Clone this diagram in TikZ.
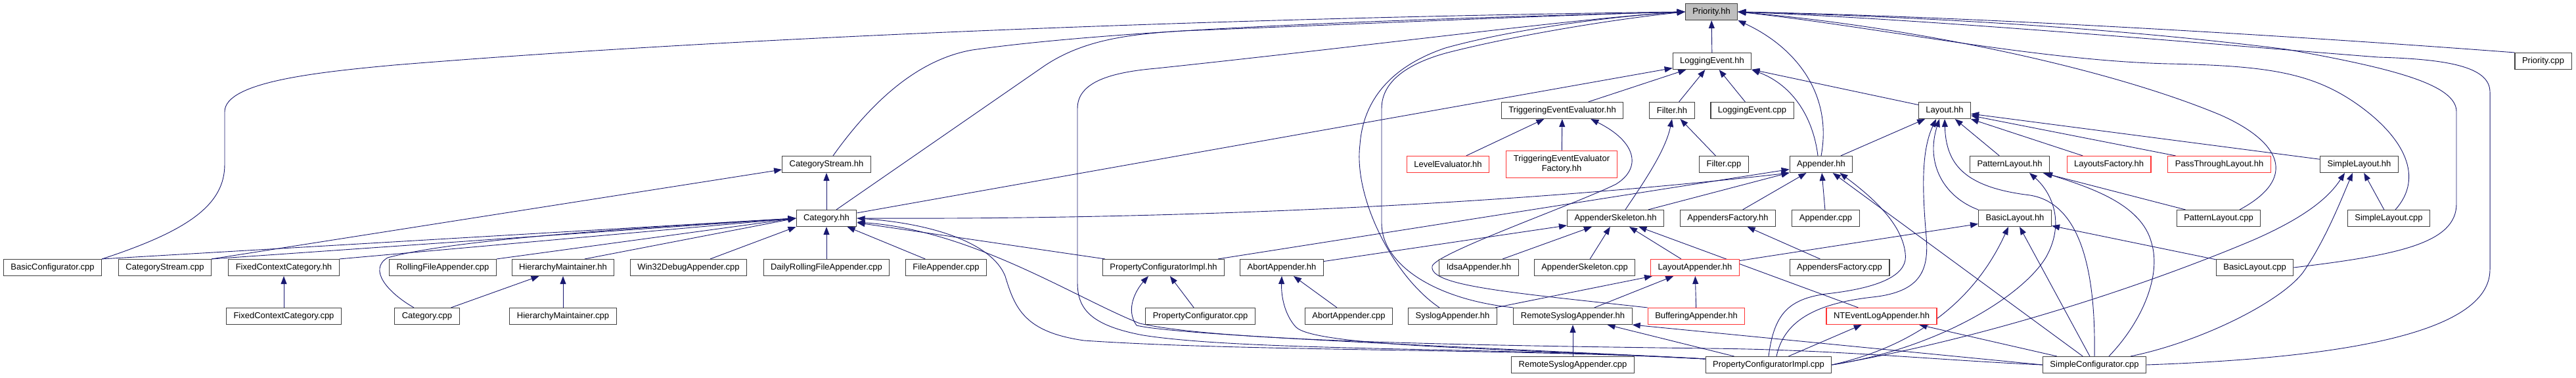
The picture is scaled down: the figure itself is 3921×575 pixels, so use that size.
\documentclass[tikz,border=0pt]{standalone}
\usepackage{fontspec}
\setmainfont{Liberation Sans}
\usepackage{tikz}
\usetikzlibrary{arrows.meta, backgrounds}
\definecolor{dgblue}{RGB}{25,25,112}
\definecolor{dggray}{RGB}{191,191,191}
\definecolor{dgred}{RGB}{255,51,51}
\definecolor{dgframe}{RGB}{64,64,64}
\tikzset{
  %% ---- boxes ----
  incl/.style     = {rectangle, draw=dgframe, line width=1.1pt, fill=white,
                     minimum height=25pt, inner xsep=11pt, inner ysep=2pt,
                     font=\fontsize{13}{15}\selectfont},
  inclred/.style  = {incl, draw=dgred},
  inclroot/.style = {incl, fill=dggray},
  %% ---- arrows ----
  dep/.style      = {-{Triangle[length=12pt,width=9pt]}, draw=dgblue, line width=0.9pt},
}

\begin{document}
\begin{tikzpicture}[x=1pt, y=-1pt]

\useasboundingbox (0,0) rectangle (3921,575);

% rank 0 and 1
\node[inclroot] (prioh)    at (2605,18)  {Priority.hh};
\node[incl]     (logev)    at (2606,93)  {LoggingEvent.hh};
\node[incl]     (pricpp)   at (3871,93)  {Priority.cpp};

% rank 2
\node[incl] (teeh)     at (2378,168) {TriggeringEventEvaluator.hh};
\node[incl] (filth)    at (2545,168) {Filter.hh};
\node[incl] (logevcpp) at (2667,168) {LoggingEvent.cpp};
\node[incl] (layh)     at (2960,168) {Layout.hh};

% rank 3
\node[incl]    (catsh)   at (1258,250) {CategoryStream.hh};
\node[inclred] (leveh)   at (2204,250) {LevelEvaluator.hh};
\node[inclred, align=center, minimum height=41pt]
               (teefh)   at (2377,250) {TriggeringEventEvaluator\\Factory.hh};
\node[incl]    (filtcpp) at (2624,250) {Filter.cpp};
\node[incl]    (apph)    at (2772,250) {Appender.hh};
\node[incl]    (patlh)   at (3059,250) {PatternLayout.hh};
\node[inclred] (laysfh)  at (3210,250) {LayoutsFactory.hh};
\node[inclred] (ptlh)    at (3378,250) {PassThroughLayout.hh};
\node[incl]    (simlh)   at (3591,250) {SimpleLayout.hh};

% rank 4
\node[incl] (cath)    at (1258,332) {Category.hh};
\node[incl] (askh)    at (2459,332) {AppenderSkeleton.hh};
\node[incl] (appfh)   at (2630,332) {AppendersFactory.hh};
\node[incl] (appcpp)  at (2779,332) {Appender.cpp};
\node[incl] (basich)  at (3067,332) {BasicLayout.hh};
\node[incl] (patlcpp) at (3377,332) {PatternLayout.cpp};
\node[incl] (simlcpp) at (3636,332) {SimpleLayout.cpp};

% rank 5
\node[incl]    (bascfg)   at (80,407)   {BasicConfigurator.cpp};
\node[incl]    (catscpp)  at (251,407)  {CategoryStream.cpp};
\node[incl]    (fcch)     at (432,407)  {FixedContextCategory.hh};
\node[incl]    (rfacpp)   at (674,407)  {RollingFileAppender.cpp};
\node[incl]    (hmh)      at (857,407)  {HierarchyMaintainer.hh};
\node[incl]    (w32cpp)   at (1048,407) {Win32DebugAppender.cpp};
\node[incl]    (drfacpp)  at (1258,407) {DailyRollingFileAppender.cpp};
\node[incl]    (facpp)    at (1440,407) {FileAppender.cpp};
\node[incl]    (pcih)     at (1771,407) {PropertyConfiguratorImpl.hh};
\node[incl]    (abah)     at (1951,407) {AbortAppender.hh};
\node[incl]    (idsah)    at (2251,407) {IdsaAppender.hh};
\node[incl]    (askcpp)   at (2412,407) {AppenderSkeleton.cpp};
\node[inclred] (layah)    at (2580,407) {LayoutAppender.hh};
\node[incl]    (appfcpp)  at (2800,407) {AppendersFactory.cpp};
\node[incl]    (basiccpp) at (3432,407) {BasicLayout.cpp};

% rank 6
\node[incl]    (fcccpp) at (432,481)  {FixedContextCategory.cpp};
\node[incl]    (catcpp) at (650,481)  {Category.cpp};
\node[incl]    (hmcpp)  at (857,481)  {HierarchyMaintainer.cpp};
\node[incl]    (pccpp)  at (1827,481) {PropertyConfigurator.cpp};
\node[incl]    (abacpp) at (2053,481) {AbortAppender.cpp};
\node[incl]    (syslh)  at (2211,481) {SyslogAppender.hh};
\node[incl]    (rsysh)  at (2394,481) {RemoteSyslogAppender.hh};
\node[inclred] (bufh)   at (2582,481) {BufferingAppender.hh};
\node[inclred] (nteh)   at (2864,481) {NTEventLogAppender.hh};

% rank 7
\node[incl] (rsyscpp) at (2394,555) {RemoteSyslogAppender.cpp};
\node[incl] (pcicpp)  at (2692,555) {PropertyConfiguratorImpl.cpp};
\node[incl] (scfgcpp) at (3188,555) {SimpleConfigurator.cpp};

\begin{scope}[on background layer]
\fill[white] (0,0) rectangle (3921,575);

% into Priority.hh
\draw[dep] (logev) -- (prioh);
\draw[dep] (pricpp.north west) .. controls (3500,55) and (3000,25) .. (prioh.east);
\draw[dep] (apph.north) .. controls (2790,140) and (2730,70) .. (prioh.south east);
\draw[dep] (bascfg.north east) .. controls (290,350) and (342,310) .. (342,250) -- (342,170)
  .. controls (342,125) and (480,110) .. (600,99) .. controls (1200,50) and (2000,25) .. (prioh.west);
\draw[dep] ([xshift=10pt]catsh.north) .. controls (1330,150) and (1400,90) .. (1480,76)
  .. controls (1700,45) and (2100,30) .. (prioh.west);
\draw[dep] ([xshift=15pt]cath.north) -- (1590,100) .. controls (1650,60) and (1720,52) .. (1800,47)
  .. controls (2100,35) and (2400,22) .. (prioh.west);
\draw[dep] ([yshift=9pt]pcicpp.west) .. controls (2300,528) and (1900,535) .. (1740,510)
  .. controls (1660,495) and (1640,470) .. (1640,430) -- (1640,165)
  .. controls (1640,125) and (1690,110) .. (1760,104) .. controls (2100,68) and (2400,28) .. (prioh.west);
\draw[dep] ([xshift=-20pt]syslh.north) .. controls (2120,420) and (2060,300) .. (2070,220)
  .. controls (2075,150) and (2120,100) .. (2200,73) .. controls (2300,45) and (2450,25) .. (prioh.west);
\draw[dep] (rsysh.north west) .. controls (2180,455) and (2103,400) .. (2103,340) -- (2103,165)
  .. controls (2103,120) and (2150,95) .. (2200,81) .. controls (2300,55) and (2450,30) .. (prioh.west);
\draw[dep] (scfgcpp.east) .. controls (3550,545) and (3790,510) .. (3790,410) -- (3790,140)
  .. controls (3790,100) and (3720,90) .. (3620,87) .. controls (3400,70) and (2950,30) .. (prioh.east);
\draw[dep] (basiccpp.east) .. controls (3650,388) and (3739,370) .. (3739,310) -- (3739,170)
  .. controls (3739,130) and (3650,105) .. (3480,75) .. controls (3200,40) and (2900,25) .. (prioh.east);
\draw[dep] ([xshift=10pt]simlcpp.north) .. controls (3690,270) and (3660,210) .. (3590,160)
  .. controls (3520,110) and (3450,100) .. (3300,97) .. controls (3100,92) and (2850,40) .. (prioh.east);
\draw[dep] ([xshift=32pt]patlcpp.north) .. controls (3500,270) and (3470,215) .. (3380,175)
  .. controls (3200,100) and (2900,40) .. (prioh.east);

% into LoggingEvent.hh
\draw[dep] (cath) -- (logev);
\draw[dep] (teeh) -- (logev);
\draw[dep] (filth) -- (logev);
\draw[dep] (logevcpp) -- (logev);
\draw[dep] ([xshift=-5pt]apph.north) .. controls (2760,180) and (2730,130) .. (logev.south east);
\draw[dep] (layh) -- (logev);

% into TriggeringEventEvaluator.hh and Filter.hh
\draw[dep] (leveh) -- (teeh);
\draw[dep] (teefh) -- (teeh);
\draw[dep] (bufh.north west) .. controls (2300,445) and (2175,435) .. (2180,405)
  .. controls (2185,385) and (2400,310) .. (2460,280) .. controls (2500,255) and (2490,215) .. ([xshift=-50pt]teeh.south east);
\draw[dep] ([xshift=15pt]askh.north) .. controls (2500,280) and (2535,230) .. (filth.south);
\draw[dep] (filtcpp) -- (filth);

% into Appender.hh
\draw[dep] (cath.east) .. controls (1900,335) and (2400,300) .. (apph.south west);
\draw[dep] (pcih) -- (apph);
\draw[dep] (askh) -- (apph);
\draw[dep] (appfh) -- (apph);
\draw[dep] (appcpp) -- (apph);
\draw[dep] (pcicpp.north) .. controls (2700,480) and (2720,455) .. (2780,447)
  .. controls (2870,437) and (2905,415) .. (2900,385) .. controls (2895,340) and (2850,300) .. ([xshift=-20pt]apph.south east);
\draw[dep] (scfgcpp) -- (apph);

% into Layout.hh
\draw[dep] (apph) -- (layh);
\draw[dep] ([xshift=12pt]pcicpp.north) .. controls (2715,490) and (2760,462) .. (2850,452)
  .. controls (2925,444) and (2936,410) .. (2932,360) .. controls (2926,290) and (2924,230) .. ([xshift=-13pt]layh.south);
\draw[dep] (basich.north west) .. controls (2960,300) and (2930,250) .. ([xshift=-8pt]layh.south);
\draw[dep] (scfgcpp.north) .. controls (3190,420) and (3170,310) .. (3090,297)
  .. controls (2990,285) and (2962,250) .. (layh.south);
\draw[dep] (patlh) -- (layh);
\draw[dep] (laysfh) -- (layh);
\draw[dep] (ptlh) -- (layh);
\draw[dep] (simlh) -- (layh);

% into PatternLayout.hh, BasicLayout.hh, SimpleLayout.hh
\draw[dep] (pcicpp.east) .. controls (2950,530) and (3080,450) .. (3115,390)
  .. controls (3145,335) and (3120,290) .. ([xshift=30pt]patlh.south);
\draw[dep] ([xshift=22pt]scfgcpp.north) .. controls (3260,490) and (3290,420) .. (3275,370)
  .. controls (3260,310) and (3180,285) .. ([xshift=-8pt]patlh.south east);
\draw[dep] (patlcpp) -- (patlh);
\draw[dep] (layah) -- (basich);
\draw[dep] (pcicpp.east) .. controls (2900,530) and (3000,470) .. ([xshift=-10pt]basich.south);
\draw[dep] (scfgcpp) -- (basich);
\draw[dep] (basiccpp) -- (basich);
\draw[dep] (pcicpp.east) .. controls (3050,510) and (3300,420) .. (3430,365)
  .. controls (3510,330) and (3545,300) .. ([xshift=-22pt]simlh.south);
\draw[dep] ([xshift=55pt]scfgcpp.north) .. controls (3350,520) and (3470,460) .. (3505,415)
  .. controls (3540,365) and (3565,300) .. ([xshift=-10pt]simlh.south);
\draw[dep] (simlcpp) -- (simlh);

% appender headers
\draw[dep] (appfcpp) -- (appfh);
\draw[dep] (abah) -- (askh);
\draw[dep] (idsah) -- (askh);
\draw[dep] (askcpp) -- (askh);
\draw[dep] (layah) -- (askh);
\draw[dep] (nteh) -- (askh);
\draw[dep] (syslh) -- (layah);
\draw[dep] (rsysh) -- (layah);
\draw[dep] (bufh) -- (layah);
\draw[dep] (rsyscpp) -- (rsysh);
\draw[dep] (pcicpp) -- (rsysh);
\draw[dep] (scfgcpp.west) -- (rsysh.south east);
\draw[dep] (pcicpp) -- (nteh);
\draw[dep] (scfgcpp) -- (nteh);
\draw[dep] (abacpp) -- (abah);
\draw[dep] ([yshift=9pt]pcicpp.west) .. controls (2300,530) and (2000,528) .. (1972,497)
  .. controls (1955,478) and (1950,450) .. (abah.south);
\draw[dep] (pccpp) -- (pcih);
\draw[dep] ([yshift=9pt]pcicpp.west) .. controls (2300,530) and (1800,512) .. (1730,495)
  .. controls (1712,470) and (1730,440) .. ([xshift=-23pt]pcih.south);

% into Category.hh
\draw[dep] (bascfg.north east) -- (cath.west);
\draw[dep] (catscpp.north east) -- (cath.west);
\draw[dep] (fcch.north east) -- (cath.west);
\draw[dep] (rfacpp.north east) -- (cath.west);
\draw[dep] ([xshift=33pt]hmh.north) -- (cath.west);
\draw[dep] ([xshift=33pt]w32cpp.north) -- (cath.south west);
\draw[dep] ([xshift=-20pt]catcpp.north) .. controls (590,445) and (560,410) .. (590,392)
  .. controls (700,362) and (1000,345) .. (cath.west);
\draw[dep] (drfacpp) -- (cath);
\draw[dep] (facpp) -- (cath);
\draw[dep] (pcih) -- (cath);
\draw[dep] ([yshift=9pt]pcicpp.west) .. controls (2300,530) and (1900,535) .. (1650,518)
  .. controls (1560,505) and (1545,470) .. (1530,420) .. controls (1510,370) and (1420,340) .. (cath.east);
\draw[dep] (scfgcpp.west) .. controls (2950,548) and (2800,532) .. (2600,530)
  .. controls (2200,525) and (1850,518) .. (1735,492) .. controls (1640,455) and (1480,350) .. ([yshift=-6pt]cath.east);

% the rest
\draw[dep] (cath) -- (catsh);
\draw[dep] (catscpp.north east) -- ([yshift=-8pt]catsh.west);
\draw[dep] (catcpp) -- (hmh);
\draw[dep] (hmcpp) -- (hmh);
\draw[dep] (fcccpp) -- (fcch);
\end{scope}

\end{tikzpicture}
\end{document}
